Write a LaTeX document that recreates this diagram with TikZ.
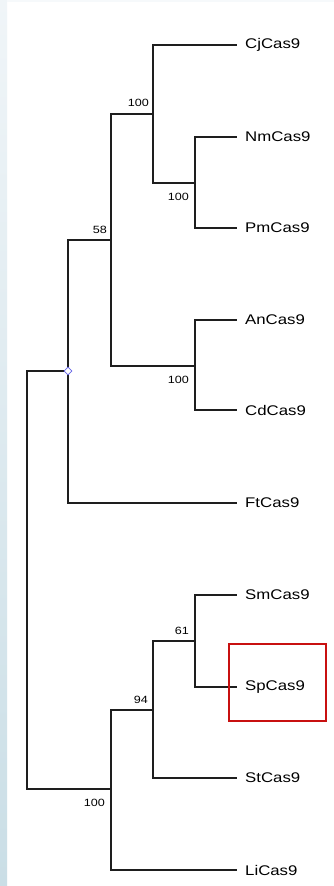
\documentclass[tikz,border=0pt]{standalone}
\usepackage{fontspec}
\setmainfont{Liberation Sans}
\usetikzlibrary{shapes.geometric}
\definecolor{stripTop}{RGB}{240,245,248}
\definecolor{stripBot}{RGB}{202,222,230}
\definecolor{boxred}{RGB}{200,16,16}
\definecolor{branch}{RGB}{30,30,30}
\definecolor{diam}{RGB}{100,100,230}
\tikzset{
  branchline/.style={draw=branch, line width=1.4pt},
  leaflabel/.style={anchor=west, inner sep=0pt, font=\fontsize{14}{14}\selectfont},
  bootlabel/.style={inner sep=0pt, font=\fontsize{10.5}{10.5}\selectfont},
}
\newcommand{\widetxt}[1]{\scalebox{1.2}[1]{#1}}
\begin{document}
\begin{tikzpicture}[x=1pt,y=-1pt]
\useasboundingbox (0,0) rectangle (334,886);
\fill[white] (0,0) rectangle (334,886);
\shade[top color=stripTop, bottom color=stripBot] (0,0) rectangle (7,886);
\fill[stripTop!60!white] (7,0) rectangle (334,2);

% leaf tips
\coordinate (Cj) at (237,45);
\coordinate (Nm) at (237,137);
\coordinate (Pm) at (237,228);
\coordinate (An) at (237,320);
\coordinate (Cd) at (237,410);
\coordinate (Ft) at (237,503);
\coordinate (Sm) at (237,595);
\coordinate (Sp) at (237,687);
\coordinate (St) at (237,778);
\coordinate (Li) at (237,870);

% internal nodes
\coordinate (n1) at (195,183);
\coordinate (n2) at (153,114);
\coordinate (n3) at (195,366);
\coordinate (n4) at (111,240);
\coordinate (n5) at (68,371);
\coordinate (n6) at (195,641);
\coordinate (n7) at (153,710);
\coordinate (n8) at (111,789);
\coordinate (root) at (27,580);

% branches
\draw[branchline] (n1) |- (Nm);
\draw[branchline] (n1) |- (Pm);
\draw[branchline] (n2) |- (Cj);
\draw[branchline] (n2) |- (n1);
\draw[branchline] (n3) |- (An);
\draw[branchline] (n3) |- (Cd);
\draw[branchline] (n4) |- (n2);
\draw[branchline] (n4) |- (n3);
\draw[branchline] (n5) |- (n4);
\draw[branchline] (n5) |- (Ft);
\draw[branchline] (n6) |- (Sm);
\draw[branchline] (n6) |- (Sp);
\draw[branchline] (n7) |- (n6);
\draw[branchline] (n7) |- (St);
\draw[branchline] (n8) |- (n7);
\draw[branchline] (n8) |- (Li);
\draw[branchline] (root) |- (n5);
\draw[branchline] (root) |- (n8);

% diamond marker
\node[diamond, draw=diam, line width=0.8pt, minimum size=8pt, inner sep=0pt, fill=white] (mk) at (n5) {};

% leaf labels
\node[leaflabel] (CjL) at (245,45) {\widetxt{CjCas9}};
\node[leaflabel] (NmL) at (245,137) {\widetxt{NmCas9}};
\node[leaflabel] (PmL) at (245,228) {\widetxt{PmCas9}};
\node[leaflabel] (AnL) at (245,320) {\widetxt{AnCas9}};
\node[leaflabel] (CdL) at (245,410) {\widetxt{CdCas9}};
\node[leaflabel] (FtL) at (245,503) {\widetxt{FtCas9}};
\node[leaflabel] (SmL) at (245,595) {\widetxt{SmCas9}};
\node[leaflabel] (SpL) at (245,687) {\widetxt{SpCas9}};
\node[leaflabel] (StL) at (245,778) {\widetxt{StCas9}};
\node[leaflabel] (LiL) at (245,870) {\widetxt{LiCas9}};

% bootstrap labels
\node[bootlabel, anchor=east] (b2) at (149,103) {\widetxt{100}};
\node[bootlabel, anchor=east] (b1) at (189,197) {\widetxt{100}};
\node[bootlabel, anchor=east] (b4) at (107,230) {\widetxt{58}};
\node[bootlabel, anchor=east] (b3) at (189,380) {\widetxt{100}};
\node[bootlabel, anchor=east] (b6) at (189,631) {\widetxt{61}};
\node[bootlabel, anchor=east] (b7) at (148,700) {\widetxt{94}};
\node[bootlabel, anchor=east] (b8) at (105,803) {\widetxt{100}};

% highlight box
\draw[boxred, line width=1.8pt] (229,644) rectangle (326,721);
\end{tikzpicture}
\end{document}
